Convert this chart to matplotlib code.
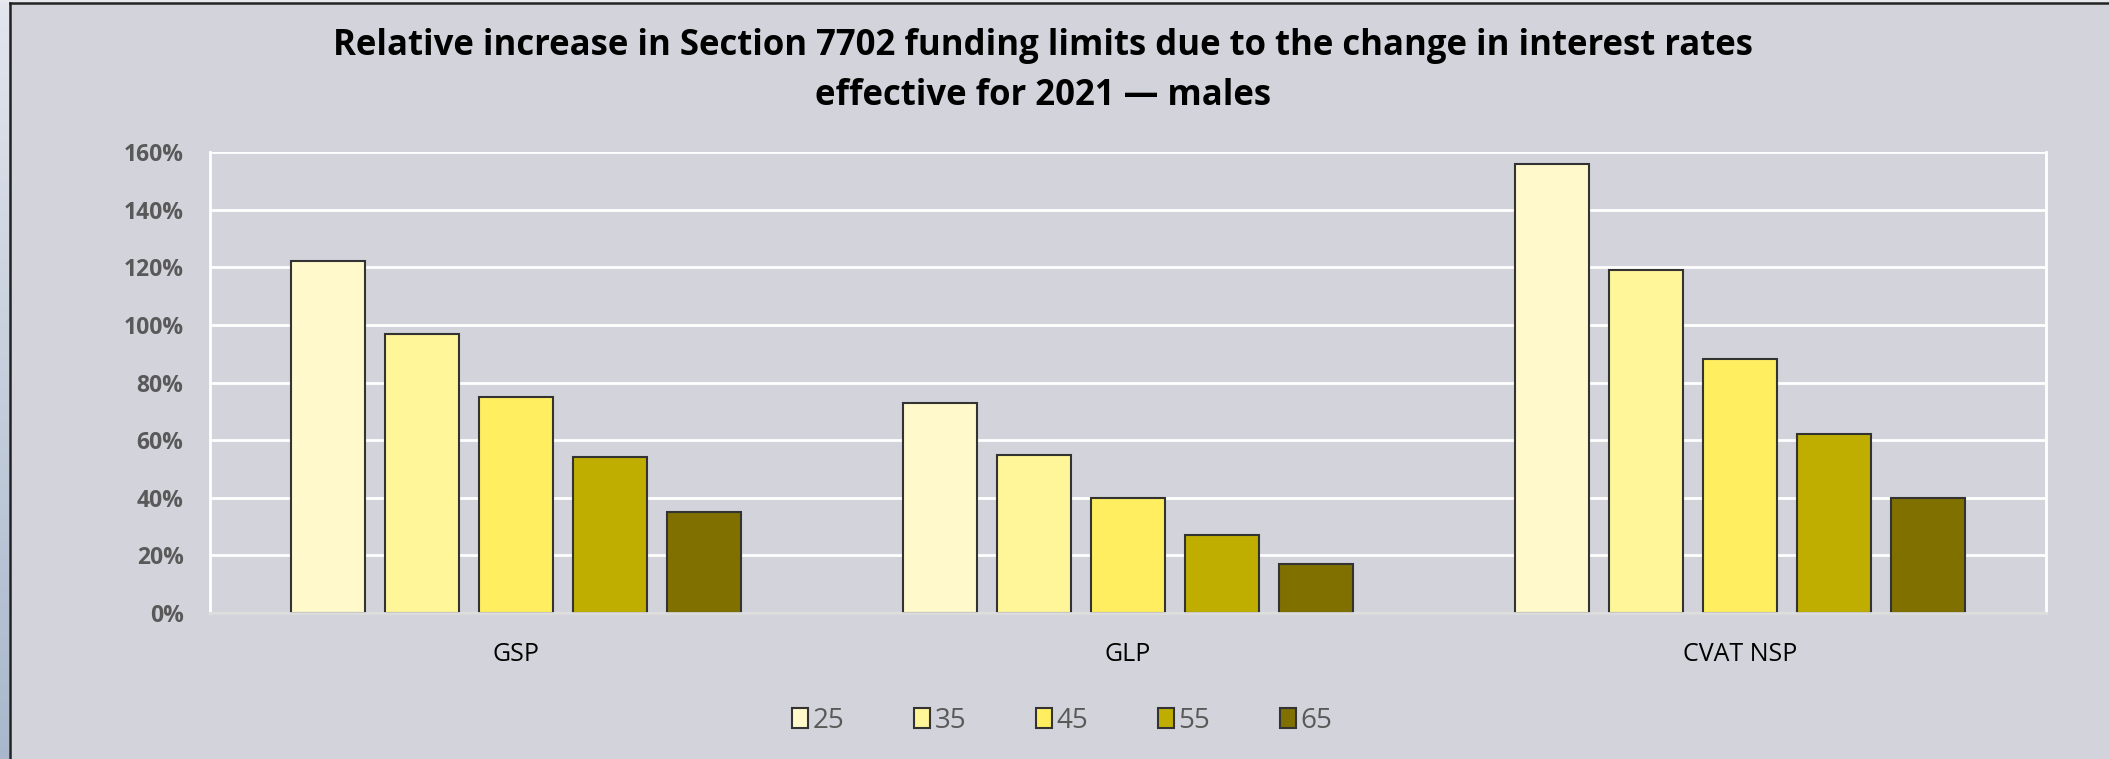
import numpy as np
import matplotlib.pyplot as plt

# --- data ---
categories = ["GSP", "GLP", "CVAT NSP"]
ages = ["25", "35", "45", "55", "65"]
age_25 = [122, 73, 156]
age_35 = [97, 55, 119]
age_45 = [75, 40, 88]
age_55 = [54, 27, 62]
age_65 = [35, 17, 40]
y_ticks = [0, 20, 40, 60, 80, 100, 120, 140, 160]

series = [age_25, age_35, age_45, age_55, age_65]
colors = ["#FFF9CC", "#FFF599", "#FFEF60", "#BFAE00", "#7F7000"]

bg = "#D3D3DB"
W, H = 2109, 759

fig = plt.figure(figsize=(W / 100, H / 100), dpi=100)
fig.patch.set_facecolor(bg)

# gradient strip on the left edge + dark frame
strip = fig.add_axes([0, 0, 9 / W, 1])
grad = np.linspace(0, 1, 256).reshape(-1, 1)
top_c = np.array([0.89, 0.90, 0.93])
bot_c = np.array([0.66, 0.72, 0.80])
img = top_c + (bot_c - top_c) * grad[..., None]
strip.imshow(img, aspect="auto", extent=[0, 1, 0, 1], origin="upper")
strip.set_axis_off()
fig.add_artist(plt.Line2D([9.5 / W, 9.5 / W], [0, 1 - 3 / H], color="#222222", lw=1.8))
fig.add_artist(plt.Line2D([9.5 / W, 1], [1 - 3 / H, 1 - 3 / H], color="#222222", lw=1.8))
fig.add_artist(plt.Rectangle((0, 1 - 2 / H), 1, 2 / H, color="#E6E8EE", transform=fig.transFigure))

ax = fig.add_axes([210 / W, (H - 613) / H, (2046 - 210) / W, (613 - 152) / H])
ax.set_facecolor(bg)

x = np.arange(len(categories))
width = 0.1225
step = 0.1536
for i, (vals, c) in enumerate(zip(series, colors)):
    ax.bar(x + (i - 2) * step, vals, width, color=c, edgecolor="#333333",
           linewidth=1.5, label=ages[i], zorder=3)

ax.set_xlim(-0.5, 2.5)
ax.set_ylim(0, 160)
ax.set_yticks(y_ticks)
ax.set_yticklabels([f"{t}%" for t in y_ticks], fontfamily="Open Sans",
                   fontweight="bold", fontsize=16.5, color="#595959")
ax.set_xticks(x)
ax.set_xticklabels(categories, fontfamily="Open Sans", fontsize=18, color="black")
ax.tick_params(axis="both", length=0)
ax.tick_params(axis="y", pad=19)
ax.tick_params(axis="x", pad=21)
ax.grid(axis="y", color="white", linewidth=2, zorder=0)

for side in ["left", "right"]:
    ax.spines[side].set_color("white")
    ax.spines[side].set_linewidth(2)
ax.spines["top"].set_visible(False)
ax.spines["bottom"].set_color("#DCDCDC")
ax.spines["bottom"].set_linewidth(2)
ax.spines["bottom"].set_zorder(4)

fig.text(1043 / W, 1 - 71 / H,
         "Relative increase in Section 7702 funding limits due to the change in interest rates\n"
         "effective for 2021 \u2014 males",
         ha="center", va="center", fontfamily="Open Sans", fontweight="bold",
         fontsize=25, linespacing=1.5)

leg = fig.legend(loc="center", bbox_to_anchor=(1062 / W, 1 - 721 / H), ncol=5,
                 frameon=False, handlelength=0.6, handleheight=0.75,
                 handletextpad=0.15, columnspacing=2.5,
                 prop={"family": "Open Sans", "size": 20})
for t in leg.get_texts():
    t.set_color("#595959")

fig.savefig("out.png", dpi=100, facecolor=bg)
